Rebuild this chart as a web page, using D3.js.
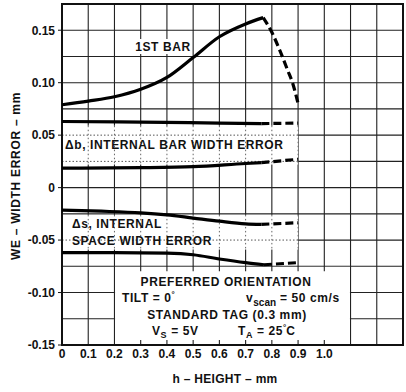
<!DOCTYPE html>
<html>
<head>
<meta charset="utf-8">
<script src="https://cdn.jsdelivr.net/npm/d3@7"></script>
</head>
<body style="margin:0">
<svg id="chart" width="406" height="392"></svg>
<script>
// values (h in mm, WE in mm)
var firstBarSolid = [[0, 0.079], [0.1, 0.0825], [0.2, 0.0866], [0.3, 0.0937], [0.4, 0.105], [0.5, 0.124], [0.6, 0.1438], [0.7, 0.156], [0.767, 0.162]];
var firstBarDash = [[0.767, 0.162], [0.8, 0.148], [0.83, 0.131], [0.86, 0.112], [0.88, 0.099], [0.9, 0.080]];
var barTopSolid = [[0, 0.063], [0.3, 0.0625], [0.6, 0.0615], [0.76, 0.061]];
var barTopDash = [[0.76, 0.061], [0.9, 0.0615]];
var barBottomSolid = [[0, 0.0185], [0.3, 0.019], [0.5, 0.020], [0.7, 0.023], [0.76, 0.0238]];
var barBottomDash = [[0.76, 0.0238], [0.9, 0.027]];
var spaceTopSolid = [[0, -0.0215], [0.15, -0.0225], [0.3, -0.024], [0.4, -0.026], [0.5, -0.029], [0.6, -0.032], [0.7, -0.0345], [0.76, -0.035]];
var spaceTopDash = [[0.76, -0.035], [0.9, -0.0335]];
var spaceBottomSolid = [[0, -0.062], [0.2, -0.062], [0.4, -0.0625], [0.5, -0.064], [0.6, -0.068], [0.7, -0.0715], [0.77, -0.0735]];
var spaceBottomDash = [[0.77, -0.0735], [0.9, -0.0715]];

var xTickValues = [0, 0.1, 0.2, 0.3, 0.4, 0.5, 0.6, 0.7, 0.8, 0.9, 1.0];
var xTickLabels = ["0", "0.1", "0.2", "0.3", "0.4", "0.5", "0.6", "0.7", "0.8", "0.9", "1.0"];
var yTickValues = [0.15, 0.10, 0.05, 0, -0.05, -0.10, -0.15];
var yTickLabels = ["0.15", "0.10", "0.05", "0", "-0.05", "-0.10", "-0.15"];

(function () {
  var svg = d3.select("#chart");
  var xs = d3.scaleLinear().domain([0, 1.3]).range([62, 403]);
  var ys = d3.scaleLinear().domain([-0.15, 0.175]).range([345, 4]);

  var xGrid = d3.range(1, 13).map(function (i) { return i / 10; });
  var yGrid = d3.range(-5, 7).map(function (i) { return i * 0.025; });

  // line work is drawn as paths
  function strokePath(p, color, w, dash) {
    var el = svg.append("path").attr("d", p.toString())
      .attr("fill", "none").attr("stroke", color).attr("stroke-width", w);
    if (dash) el.attr("stroke-dasharray", dash);
    return el;
  }

  // grid
  var gp = d3.path();
  xGrid.forEach(function (d) { gp.moveTo(xs(d), ys(0.175)); gp.lineTo(xs(d), ys(-0.15)); });
  yGrid.forEach(function (d) { gp.moveTo(xs(0), ys(d)); gp.lineTo(xs(1.3), ys(d)); });
  strokePath(gp, "#222", 1.1);

  // white label bands between the curves, faint dotted grid inside
  function clearBand(x0, x1, y0, y1) {
    svg.append("rect").attr("x", xs(x0)).attr("y", ys(y0))
      .attr("width", xs(x1) - xs(x0)).attr("height", ys(y1) - ys(y0)).attr("fill", "#fff");
    var vp = d3.path();
    xGrid.filter(function (d) { return d > x0 + 1e-9 && d <= x1 + 1e-9; }).forEach(function (d) {
      vp.moveTo(xs(d), ys(y0)); vp.lineTo(xs(d), ys(y1));
    });
    strokePath(vp, "#666", 1, "1.5,2.5");
    var hp = d3.path();
    yGrid.filter(function (d) { return d < y0 && d > y1; }).forEach(function (d) {
      hp.moveTo(xs(x0), ys(d)); hp.lineTo(xs(x1), ys(d));
    });
    strokePath(hp, "#555", 1, "1.5,2");
  }
  clearBand(0, 0.9, 0.059, 0.022);
  clearBand(0, 0.9, -0.026, -0.059);

  // bottom text box
  svg.append("rect").attr("x", xs(0.2) + 0.6).attr("y", ys(-0.075) + 0.6)
    .attr("width", xs(1.1) - xs(0.2) - 1.2).attr("height", ys(-0.15) - ys(-0.075) - 1.2).attr("fill", "#fff");
  var sp = d3.path();
  d3.range(3, 11).forEach(function (i) {
    sp.moveTo(xs(i / 10), ys(-0.075)); sp.lineTo(xs(i / 10), ys(-0.075) + 5);
    sp.moveTo(xs(i / 10), ys(-0.15)); sp.lineTo(xs(i / 10), ys(-0.15) - 5);
  });
  strokePath(sp, "#222", 1.1);

  // "1ST BAR" label background
  svg.append("rect").attr("x", 135).attr("y", 39).attr("width", 56).attr("height", 15).attr("fill", "#fff");

  // frame
  svg.append("rect").attr("x", xs(0)).attr("y", ys(0.175))
    .attr("width", xs(1.3) - xs(0)).attr("height", ys(-0.15) - ys(0.175))
    .attr("fill", "none").attr("stroke", "#111").attr("stroke-width", 2);

  // curves
  var lineGen = d3.line().x(function (d) { return xs(d[0]); }).y(function (d) { return ys(d[1]); })
    .curve(d3.curveMonotoneX);
  var solids = [firstBarSolid, barTopSolid, barBottomSolid, spaceTopSolid, spaceBottomSolid];
  var dashes = [firstBarDash, barTopDash, barBottomDash, spaceTopDash, spaceBottomDash];
  svg.append("g").selectAll("path").data(solids).enter().append("path")
    .attr("d", lineGen).attr("fill", "none").attr("stroke", "#000").attr("stroke-width", 3.2);
  svg.append("g").selectAll("path").data(dashes).enter().append("path")
    .attr("d", lineGen).attr("fill", "none").attr("stroke", "#000").attr("stroke-width", 3.2)
    .attr("stroke-dasharray", "8,4");

  var FONT = "'Liberation Sans', Arial, sans-serif";
  function txt(tx, ty, str, anchor, size) {
    return svg.append("text").attr("x", tx).attr("y", ty)
      .attr("font-family", FONT).attr("font-weight", "bold").attr("fill", "#111")
      .attr("font-size", size || 12).attr("text-anchor", anchor || "start").text(str);
  }

  // axis ticks and labels
  var tp = d3.path();
  yTickValues.forEach(function (v, i) {
    tp.moveTo(xs(0) - 4, ys(v)); tp.lineTo(xs(0), ys(v));
    txt(55, ys(v), yTickLabels[i], "end").attr("dy", "0.36em");
  });
  strokePath(tp, "#111", 1);
  xTickValues.forEach(function (v, i) {
    txt(xs(v), 358, xTickLabels[i], "middle");
  });

  txt(225, 383, "h – HEIGHT – mm", "middle").attr("letter-spacing", 0.3);
  txt(0, 0, "WE  – WIDTH ERROR – mm", "middle").attr("transform", "translate(20,176) rotate(-90)")
    .attr("letter-spacing", 0.7);

  // in-plot labels
  function label(tx, ty, str, anchor) {
    return txt(tx, ty, str, anchor).attr("letter-spacing", 0.6);
  }
  label(163, 51, "1ST BAR", "middle");
  label(65, 149, "Δb, INTERNAL BAR WIDTH ERROR");
  label(72, 228, "Δs, INTERNAL");
  label(72, 245, "SPACE WIDTH ERROR");
  label(226, 286, "PREFERRED ORIENTATION", "middle");

  var tilt = label(122, 302, "TILT = 0");
  tilt.append("tspan").attr("dy", -5).attr("font-size", 8).text("°");

  var vs = label(246, 302, "v");
  vs.append("tspan").attr("dy", 4).attr("font-size", 10).attr("letter-spacing", 0).text("scan");
  vs.append("tspan").attr("dy", -4).text(" = 50 cm/s");

  label(227, 319, "STANDARD TAG (0.3 mm)", "middle");

  var vsup = label(152, 335, "V");
  vsup.append("tspan").attr("dy", 3).attr("font-size", 9).text("S");
  vsup.append("tspan").attr("dy", -3).text(" = 5V");

  var ta = label(238, 335, "T");
  ta.append("tspan").attr("dy", 3).attr("font-size", 9).text("A");
  ta.append("tspan").attr("dy", -3).text("  = 25");
  ta.append("tspan").attr("dy", -5).attr("font-size", 8).attr("letter-spacing", 0).text("°");
  ta.append("tspan").attr("dy", 5).text("C");
})();
</script>
</body>
</html>
